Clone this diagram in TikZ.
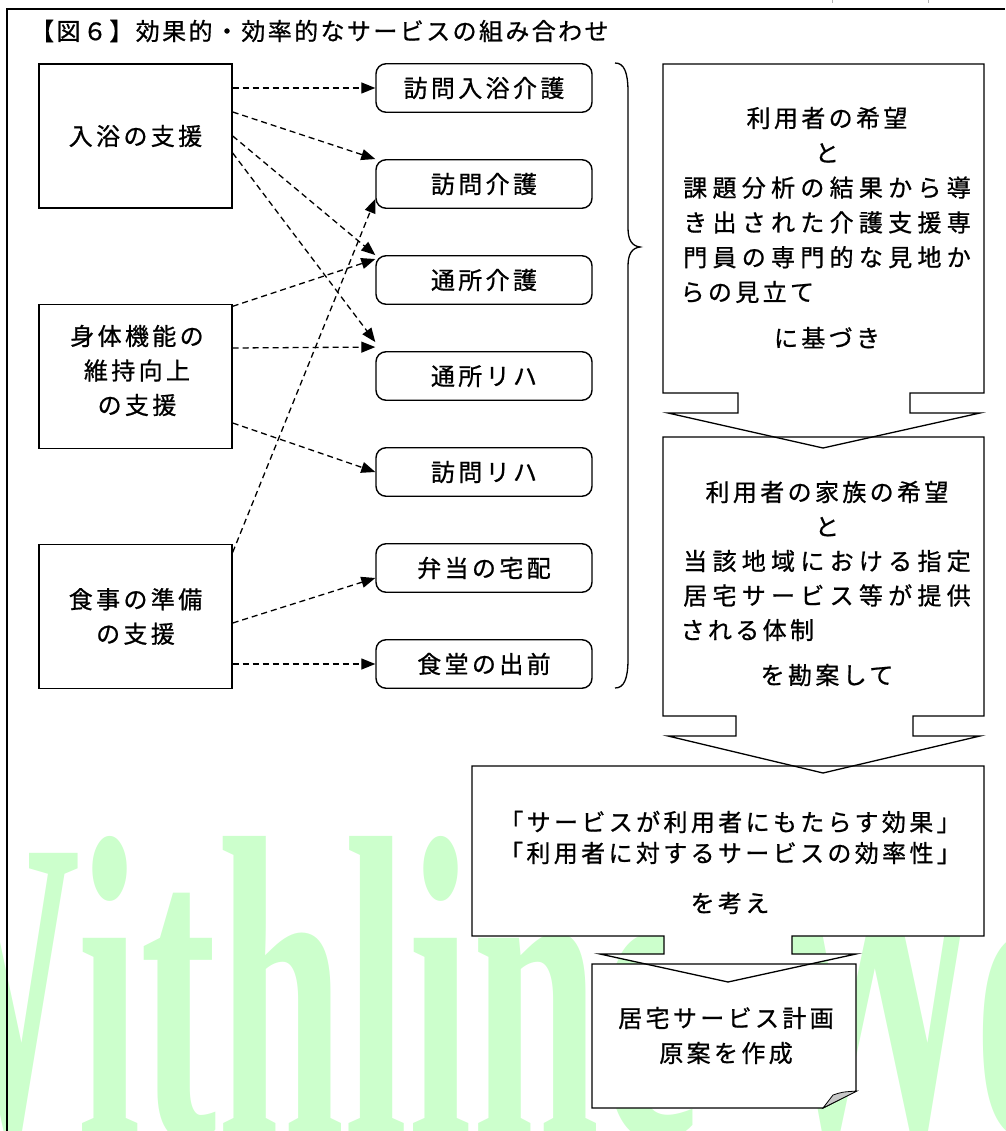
\documentclass[tikz,border=0pt]{standalone}
\usepackage{fontspec}
\usepackage{graphicx}
\usetikzlibrary{arrows.meta,calc}
\newfontfamily\jp{Noto Sans CJK JP}[LetterSpace=14,FakeBold=0.8]
\newfontfamily\jpw{Noto Sans CJK JP}[LetterSpace=22,FakeBold=0.8]
\newfontfamily\jpt{Noto Sans CJK JP}[LetterSpace=10,FakeBold=0.8]
\newfontfamily\wmfont{Liberation Serif}
\newcommand\js{\rule[-0.12em]{0pt}{1em}}
\definecolor{wmgreen}{RGB}{204,255,204}
\definecolor{foldgray}{RGB}{200,200,200}
\begin{document}
\begin{tikzpicture}[x=1pt,y=-1pt,
  box/.style={draw,line width=1.4pt,fill=white,minimum width=193pt,minimum height=144pt,inner sep=0pt,font=\jp\fontsize{24}{34.5}\selectfont,align=center},
  svc/.style={draw,line width=1.4pt,fill=white,rounded corners=10pt,minimum width=216pt,minimum height=48.5pt,inner sep=0pt,font=\jp\fontsize{24}{34.5}\selectfont},
  dasharrow/.style={line width=1.3pt,dash pattern=on 6pt off 4pt,-{Triangle[length=14pt,width=11pt]}},
  outl/.style={line width=1.3pt},
  txt/.style={inner sep=0pt,align=center}
]
\useasboundingbox (0,0) rectangle (1005,1131);
% watermark
\begin{scope}
\clip (0,0) rectangle (1005,1131);
\node[anchor=base west,inner sep=0pt,text=wmgreen,font=\wmfont\bfseries\fontsize{434}{434}\selectfont] (wm) at (-148,1137) {\scalebox{0.528}[1]{Withline Web}};
\end{scope}
% frame
\draw[line width=2pt] (6,9) -- (1005,9);
\draw[line width=1.5pt] (7,9) -- (7,1131);
\draw[gray!60,line width=1pt] (832,0) -- (832,3);
\draw[gray!60,line width=1pt] (928,0) -- (928,3);
% title
\node[anchor=west,inner sep=0pt,font=\jpt\fontsize{24}{30}\selectfont] (title) at (30,31) {\js【図６】効果的・効率的なサービスの組み合わせ};
% left boxes
\node[box] (b1) at (135.5,136) {\js 入浴の支援};
\node[box] (b2) at (135.5,376.5) {};
\node[txt,font=\jp\fontsize{24}{34.5}\selectfont] (b2t) at (137,370.5) {\js 身体機能の\\\js 維持向上\\\js の支援};
\node[box] (b3) at (135.5,616.5) {\js 食事の準備\\\js の支援};
% service boxes
\node[svc] (r1) at (484,88) {\js 訪問入浴介護};
\node[svc] (r2) at (484,184) {\js 訪問介護};
\node[svc] (r3) at (484,280) {\js 通所介護};
\node[svc] (r4) at (484,376) {\js 通所リハ};
\node[svc] (r5) at (484,472) {\js 訪問リハ};
\node[svc] (r6) at (484,568) {\js 弁当の宅配};
\node[svc] (r7) at (484,664) {\js 食堂の出前};
% arrows
\draw[dasharrow] ($(b1.east)+(0,-48)$) -- (r1.west);
\draw[dasharrow] ($(b1.east)+(0,-24)$) -- (r2.north west);
\draw[dasharrow] (b1.east) -- (r3.north west);
\draw[dasharrow] ($(b1.east)+(0,17)$) -- ($(r4.north west)+(0,-9)$);
\draw[dasharrow] ($(b2.north east)+(0,2.5)$) -- ($(r3.north west)+(0,4)$);
\draw[dasharrow] ($(b2.east)+(0,-28.5)$) -- ($(r4.north west)+(0,-4)$);
\draw[dasharrow] ($(b2.east)+(0,46.5)$) -- (r5.west);
\draw[dasharrow] ($(b3.north east)+(0,8.5)$) -- ($(r2.south west)+(0,-10)$);
\draw[dasharrow] ($(b3.east)+(0,6.5)$) -- ($(r6.west)+(0,10)$);
\draw[dasharrow] ($(b3.east)+(0,47.5)$) -- (r7.west);
% brace
\draw[outl] (615,63) .. controls (624,63) and (628,72) .. (628,92) -- (628,228) .. controls (628,240) and (632,246) .. (640,247) .. controls (632,248) and (628,254) .. (628,266) -- (628,659) .. controls (628,679) and (624,688) .. (615,688);
% flow shapes
\def\cbone{(663,393) -- (663,64) -- (984,64) -- (984,393) -- (910,393) -- (910,413) -- (980,413) -- (823,448) -- (668,413) -- (738,413) -- (738,393) -- cycle}
\def\cbtwo{(663,716) -- (663,437) -- (984,437) -- (984,716) -- (913,716) -- (913,736) -- (980,736) -- (823,773) -- (668,736) -- (736,736) -- (736,716) -- cycle}
\def\cbthree{(472,936) -- (472,766) -- (984,766) -- (984,936) -- (792,936) -- (792,954) -- (856,954) -- (728,982) -- (600,954) -- (664,954) -- (664,936) -- cycle}
\def\docshape{(592,964) -- (856,964) -- (856,1091) -- (823,1108) -- (592,1108) -- cycle}
\fill[white] \cbone; \fill[white] \cbtwo; \fill[white] \cbthree; \fill[white] \docshape;
\draw[outl] \cbone; \draw[outl] \cbtwo; \draw[outl] \cbthree; \draw[outl] \docshape;
\draw[line width=0.8pt,fill=foldgray] (823,1108) -- (833,1095) .. controls (842,1092) .. (857,1091) -- cycle;
% flow texts
\node[txt,font=\jp\fontsize{24}{34.8}\selectfont] (cb1t) at (827,228) {\js 利用者の希望\\\js と\\{\jpw\js 課題分析の結果から導}\\{\jpw\js き出された介護支援専}\\{\jpw\js 門員の専門的な見地か}\\\makebox[292.8pt][l]{\js らの見立て}\\[11.2pt]\js に基づき};
\node[txt,font=\jp\fontsize{24}{34.5}\selectfont] (cb2t) at (827,583.5) {\js 利用者の家族の希望\\\js と\\{\jpw\js 当該地域における指定}\\{\jpw\js 居宅サービス等が提供}\\\makebox[292.8pt][l]{\js される体制}\\[10.5pt]\js を勘案して};
\node[txt,font=\jp\fontsize{24}{31}\selectfont] (cb3t) at (730,862.5) {\js「サービスが利用者にもたらす効果」\\\js「利用者に対するサービスの効率性」\\[19pt]\js を考え};
\node[txt,font=\jp\fontsize{24}{35}\selectfont] (doct) at (726,1035.5) {\js 居宅サービス計画\\\js 原案を作成};
\end{tikzpicture}
\end{document}
